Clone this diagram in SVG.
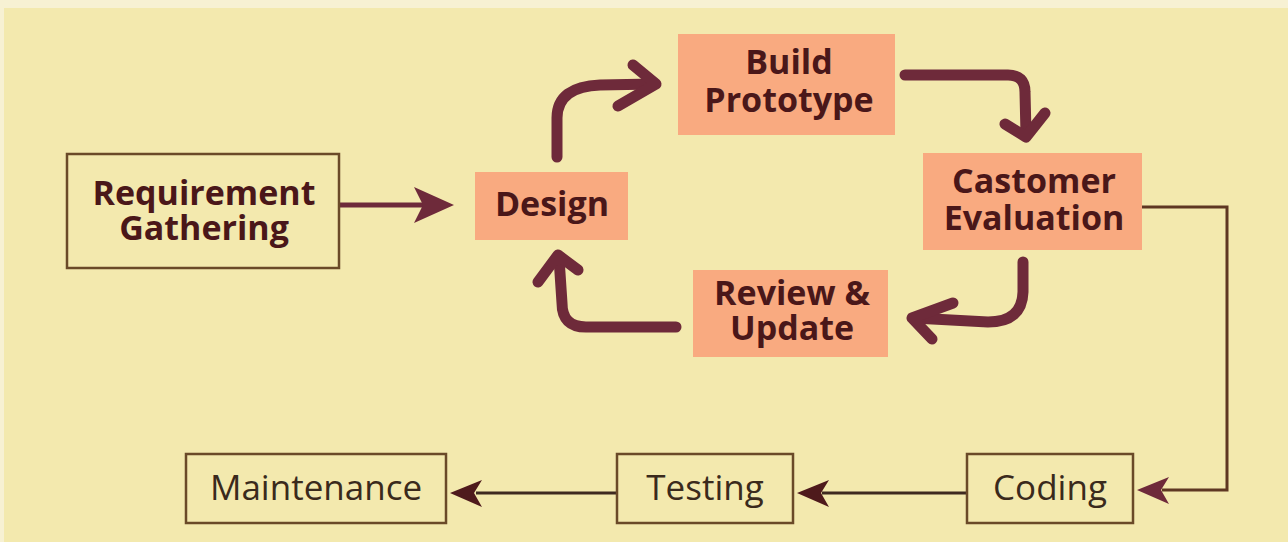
<svg xmlns="http://www.w3.org/2000/svg" width="1288" height="542" viewBox="0 0 1288 542">
<defs>
<style>
.bg{fill:#F3E9AE}
.obox{fill:#F9AA80}
.wbox{fill:none;stroke:#6A4A28;stroke-width:2.5}
.bt{font-family:"Open Sans","Liberation Sans",sans-serif;font-weight:700;font-size:34px;fill:#4A1719;text-anchor:middle}
.rt{font-family:"Open Sans","Liberation Sans",sans-serif;font-weight:400;font-size:35px;fill:#3A2A1C;text-anchor:middle}
.thick{fill:none;stroke:#6E2A3A;stroke-width:11;stroke-linecap:round;stroke-linejoin:round}
.thin{fill:none;stroke:#5E3722;stroke-width:3}
.line{fill:none;stroke:#3E2A20;stroke-width:3}
.head{fill:#6E2A3A}
.dhead{fill:#4E1A1C}
</style>
</defs>
<rect x="0" y="0" width="1288" height="542" fill="#F7F1D3"/>
<rect class="bg" x="4" y="8" width="1284" height="534"/>

<g id="connectors">
<line x1="340" y1="205" x2="424" y2="205" stroke="#6E2A3A" stroke-width="5"/>
<polygon class="head" points="454,205 414,187 423,205 414,223"/>
<path class="thick" d="M557,157 L557,118 C557,97 572,86 600,85 L654,84"/>
<polyline class="thick" points="633,65 656,84 618,106"/>
<path class="thick" d="M905,75 L1008,75 Q1025,75 1025,92 L1026,134"/>
<polyline class="thick" points="1005,124 1026,137 1045,113"/>
<path class="thick" d="M1023,262 L1023,292 Q1022,322 988,322 L914,318"/>
<polyline class="thick" points="953,303 912,318 932,339"/>
<path class="thick" d="M676,327 L586,327 Q562,327 562,303 L559,258"/>
<polyline class="thick" points="538,282 558,255 578,270"/>
<polyline class="thin" points="1142,207 1227,207 1227,490 1162,490"/>
<polygon class="head" points="1137,490 1169,477 1161,490 1169,504"/>
<line class="line" x1="966" y1="493" x2="822" y2="493"/>
<polygon class="dhead" points="797,493 829,480 821,493 829,507"/>
<line class="line" x1="617" y1="493" x2="476" y2="493"/>
<polygon class="dhead" points="450,493 482,480 474,493 482,507"/>
</g>

<g id="requirement">
<rect class="wbox" x="67" y="154" width="272" height="114"/>
<text class="bt" x="204" y="205">Requirement</text>
<text class="bt" x="204" y="240">Gathering</text>
</g>
<g id="design">
<rect class="obox" x="475" y="172" width="153" height="68"/>
<text class="bt" x="552" y="216">Design</text>
</g>
<g id="build">
<rect class="obox" x="678" y="34" width="217" height="101"/>
<text class="bt" x="789" y="74">Build</text>
<text class="bt" x="789" y="112">Prototype</text>
</g>
<g id="customer">
<rect class="obox" x="923" y="153" width="219" height="97"/>
<text class="bt" x="1034" y="193">Castomer</text>
<text class="bt" x="1034" y="230">Evaluation</text>
</g>
<g id="review">
<rect class="obox" x="693" y="270" width="195" height="87"/>
<text class="bt" x="792" y="305">Review &amp;</text>
<text class="bt" x="792" y="340">Update</text>
</g>
<g id="maintenance">
<rect class="wbox" x="186" y="454" width="260" height="69"/>
<text class="rt" x="316" y="500">Maintenance</text>
</g>
<g id="testing">
<rect class="wbox" x="617" y="454" width="176" height="69"/>
<text class="rt" x="705" y="500">Testing</text>
</g>
<g id="coding">
<rect class="wbox" x="967" y="454" width="166" height="69"/>
<text class="rt" x="1050" y="500">Coding</text>
</g>
</svg>
